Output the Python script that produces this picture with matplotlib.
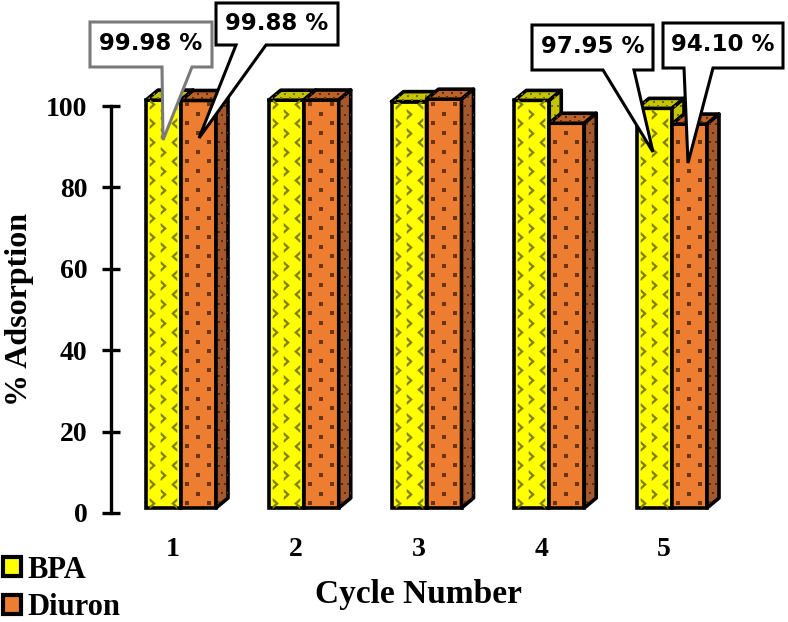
import matplotlib
matplotlib.use('Agg')
import matplotlib.pyplot as plt
import numpy as np
from matplotlib.patches import Polygon, Patch
from matplotlib.transforms import Affine2D

cycles = [1, 2, 3, 4, 5]
bpa = [99.98, 99.95, 99.6, 99.9, 97.95]
diuron = [99.88, 100.0, 100.2, 94.3, 94.10]
callouts = ['99.98 %', '99.88 %', '97.95 %', '94.10 %']

W, H = 788, 622
SERIF = 'Liberation Serif'

fig = plt.figure(figsize=(W / 100, H / 100), dpi=100)
# y axis: 0 at pixel row 513, 100 at row 106
ax = fig.add_axes([111 / W, 1 - 513 / H, (745 - 111) / W, (513 - 106) / H])
px_x = 122.75
px_y = 4.07
ax.set_xlim(1 - (181 - 111) / px_x, 1 + (745 - 181) / px_x)
ax.set_ylim(0, 100)

bar_w = 35 / px_x
dep_x = 12 / px_x
dep_y = 10 / px_y
base = 5 / px_y
scale = 4.08 / px_y
LW = 2.6


def chevron():
    return [(-0.5, -1), (0.6, 0), (-0.5, 1), (-0.5, 0.45), (0, 0), (-0.5, -0.45)]


def texture(patch, x0, x1, y0, y1, kind):
    # pattern fill, clipped to the face
    xs = np.arange(x0 + 6 / px_x, x1, 11 / px_x)
    ys = np.arange(y0 + 5 / px_y, y1, 9.5 / px_y)
    for j, yy in enumerate(ys):
        for i, xx in enumerate(xs):
            if (i + j) % 2:
                continue
            if kind == 'chev':
                v = np.array(chevron())
                if i % 4 == 2:
                    v = v * [-1, 1]
                ln, = ax.plot(xx, yy, marker=v, ms=8, color='#7f7f00', mew=0, ls='none', zorder=patch.get_zorder() + 0.1)
            else:
                ln, = ax.plot(xx, yy, marker='s', ms=2.4, color='#6b3510', mew=0, ls='none', zorder=patch.get_zorder() + 0.1)
            ln.set_clip_path(patch)


def specks(patch, x0, x1, y0, y1, step_x, step_y, col):
    for j, yy in enumerate(np.arange(y0, y1, step_y / px_y)):
        for xx in np.arange(x0 + (j % 2) * step_x / 2 / px_x, x1, step_x / px_x):
            ln, = ax.plot(xx, yy, marker='s', ms=1.8, color=col, mew=0, ls='none', zorder=patch.get_zorder() + 0.1)
            ln.set_clip_path(patch)


def bar3d(x, val, front, top, side, kind, z):
    y1 = base + val * scale
    r = ax.bar(x, val * scale, bar_w, bottom=base, align='edge', color=front, edgecolor='black', lw=LW, zorder=z)[0]
    r.set_clip_on(False)
    texture(r, x, x + bar_w, base, y1, kind)
    t = Polygon([(x, y1), (x + dep_x, y1 + dep_y), (x + bar_w + dep_x, y1 + dep_y), (x + bar_w, y1)],
                closed=True, fc=top, ec='black', lw=LW, zorder=z, clip_on=False, joinstyle='round')
    s = Polygon([(x + bar_w, base), (x + bar_w + dep_x, base + dep_y), (x + bar_w + dep_x, y1 + dep_y), (x + bar_w, y1)],
                closed=True, fc=side, ec='black', lw=LW, zorder=z, clip_on=False, joinstyle='round')
    ax.add_patch(t)
    ax.add_patch(s)
    dark = '#5a2c0c' if kind == 'dot' else '#6f6f00'
    specks(s, x + bar_w + 3 / px_x, x + bar_w + dep_x, base + 6 / px_y, y1 + dep_y, 6, 9, dark)
    specks(t, x + 3 / px_x, x + bar_w + dep_x, y1 + 2 / px_y, y1 + dep_y, 9, 4, dark)


for i, c in enumerate(cycles):
    left = c - 35 / px_x
    bar3d(left, bpa[i], '#FFFF00', '#C4C400', '#C4C400', 'chev', 3 + i)
    bar3d(left + bar_w, diuron[i], '#ED7D31', '#BC6226', '#A5582B', 'dot', 3.5 + i)

# axis
for sp in ['top', 'right', 'bottom']:
    ax.spines[sp].set_visible(False)
ax.spines['left'].set_linewidth(2.4)
ax.set_yticks([0, 20, 40, 60, 80, 100])
ax.tick_params(axis='y', direction='inout', length=13, width=2.4, pad=10.5, labelsize=20)
ax.set_xticks([c - 8 / px_x for c in cycles])
ax.set_xticklabels(cycles)
ax.tick_params(axis='x', length=0, pad=17, labelsize=20)
for lb in ax.get_xticklabels() + ax.get_yticklabels():
    lb.set_fontfamily(SERIF)
    lb.set_fontweight('bold')
ax.set_ylabel('% Adsorption', fontfamily=SERIF, fontweight='bold', fontsize=23, labelpad=9)
fig.text(418 / W, 1 - 594 / H, 'Cycle Number', ha='center', va='center', fontfamily=SERIF, fontweight='bold', fontsize=24)

# callouts, image pixel coords
img = Affine2D().scale(1 / W, -1 / H).translate(0, 1) + fig.transFigure
boxes = [(90, 212, 22, 67, 162, 192, 163, 140, '#7a7a7a'),
         (216, 338, 3, 45, 236, 266, 199, 138, 'black'),
         (532, 653, 25, 70, 603, 634, 653, 152, 'black'),
         (663, 783, 23, 68, 684, 713, 688, 163, 'black')]
for txt, b in zip(callouts, boxes):
    x0, x1, y0, y1, t0, t1, tx, ty, col = b
    poly = Polygon([(x0, y0), (x1, y0), (x1, y1), (t1, y1), (tx, ty), (t0, y1), (x0, y1)], closed=True,
                   fc='white', ec=col, lw=2.2, transform=img, zorder=50, clip_on=False)
    fig.add_artist(poly)
    t = fig.text((x0 + x1) / 2 / W, 1 - ((y0 + y1) / 2 - 1) / H, txt, ha='center', va='center',
                 fontsize=16.5, fontweight='bold', family='DejaVu Sans', zorder=51)

# legend
handles = [Patch(fc='#FFFF00', ec='black', lw=3), Patch(fc='#ED7D31', ec='black', lw=3)]
fig.legend(handles, ['BPA', 'Diuron'], loc='lower left', bbox_to_anchor=(0.004, 0.0), frameon=False,
           prop={'family': SERIF, 'weight': 'bold', 'size': 22}, handlelength=0.58, handleheight=0.58,
           handletextpad=0.22, labelspacing=0.27, borderpad=0.0, borderaxespad=0)

fig.savefig('out.png', dpi=100)
